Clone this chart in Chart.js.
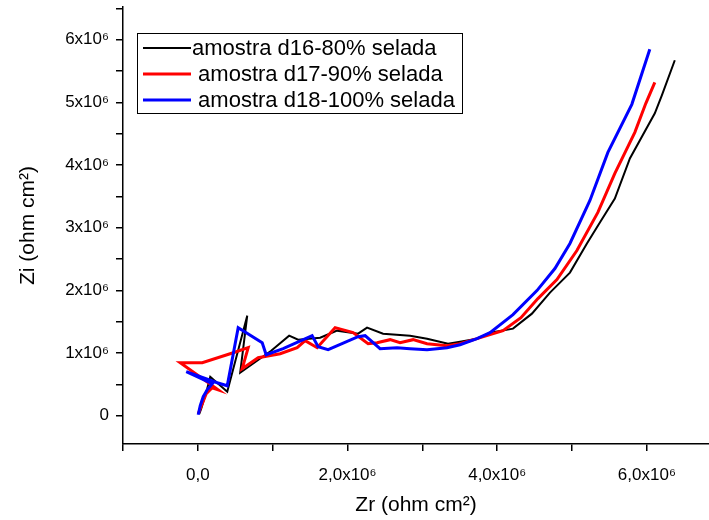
<!DOCTYPE html>
<html>
<head>
<meta charset="utf-8">
<script src="https://cdn.jsdelivr.net/npm/chart.js@4.4.0/dist/chart.umd.min.js"></script>
<style>
  html, body { margin: 0; padding: 0; background: #fff; }
  #wrap { width: 709px; height: 520px; }
</style>
</head>
<body>
<div id="wrap"><canvas id="chart" width="709" height="520"></canvas></div>
<script>
// series labels (Origin export had a leading space on the last two)
const seriesLabels = ['amostra d16-80% selada', ' amostra d17-90% selada', ' amostra d18-100% selada'];
const seriesColors = ['#000000', '#ff0000', '#0000ff'];

// Zr / Zi (ohm cm2)
const d16Zr = [0.019e6, 0.045e6, 0.085e6, 0.125e6, 0.166e6, 0.393e6, 0.660e6, 0.566e6, 0.980e6, 1.220e6, 1.340e6, 1.634e6, 1.861e6, 2.141e6, 2.261e6, 2.475e6, 2.836e6, 3.063e6, 3.343e6, 3.503e6, 3.730e6, 3.904e6, 4.211e6, 4.464e6, 4.705e6, 4.972e6, 5.199e6, 5.372e6, 5.572e6, 5.773e6, 6.106e6, 6.200e6, 6.373e6];
const d16Zi = [0.032e6, 0.112e6, 0.272e6, 0.431e6, 0.623e6, 0.383e6, 1.597e6, 0.687e6, 1.038e6, 1.278e6, 1.214e6, 1.246e6, 1.358e6, 1.310e6, 1.406e6, 1.310e6, 1.278e6, 1.230e6, 1.150e6, 1.182e6, 1.230e6, 1.326e6, 1.390e6, 1.629e6, 1.965e6, 2.284e6, 2.748e6, 3.083e6, 3.466e6, 4.105e6, 4.824e6, 5.112e6, 5.671e6];

const d17Zr = [0.005e6, 0.059e6, 0.112e6, 0.192e6, 0.272e6, -0.235e6, 0.059e6, 0.473e6, 0.673e6, 0.593e6, 0.806e6, 1.100e6, 1.327e6, 1.434e6, 1.594e6, 1.834e6, 2.075e6, 2.275e6, 2.395e6, 2.569e6, 2.702e6, 2.876e6, 3.063e6, 3.330e6, 3.503e6, 3.730e6, 3.904e6, 4.077e6, 4.317e6, 4.544e6, 4.798e6, 5.065e6, 5.345e6, 5.572e6, 5.839e6, 5.986e6, 6.106e6];
const d17Zi = [0.032e6, 0.192e6, 0.351e6, 0.447e6, 0.415e6, 0.847e6, 0.847e6, 1.006e6, 1.086e6, 0.751e6, 0.927e6, 0.990e6, 1.086e6, 1.198e6, 1.086e6, 1.406e6, 1.326e6, 1.150e6, 1.166e6, 1.214e6, 1.166e6, 1.214e6, 1.150e6, 1.118e6, 1.150e6, 1.230e6, 1.294e6, 1.358e6, 1.565e6, 1.869e6, 2.173e6, 2.636e6, 3.243e6, 3.866e6, 4.521e6, 4.984e6, 5.319e6];

const d18Zr = [0.005e6, 0.032e6, 0.072e6, 0.125e6, 0.192e6, -0.155e6, 0.259e6, 0.393e6, 0.539e6, 0.860e6, 0.913e6, 1.140e6, 1.527e6, 1.607e6, 1.741e6, 2.141e6, 2.235e6, 2.435e6, 2.662e6, 2.836e6, 3.063e6, 3.330e6, 3.503e6, 3.730e6, 3.904e6, 4.211e6, 4.531e6, 4.771e6, 4.972e6, 5.239e6, 5.479e6, 5.799e6, 6.039e6];
const d18Zi = [0.016e6, 0.160e6, 0.304e6, 0.415e6, 0.511e6, 0.703e6, 0.527e6, 0.479e6, 1.406e6, 1.166e6, 0.974e6, 1.070e6, 1.278e6, 1.102e6, 1.054e6, 1.262e6, 1.278e6, 1.070e6, 1.086e6, 1.070e6, 1.054e6, 1.086e6, 1.134e6, 1.230e6, 1.326e6, 1.613e6, 1.997e6, 2.348e6, 2.748e6, 3.435e6, 4.201e6, 4.968e6, 5.847e6];

// axis ticks
const xMajorTicks = [0, 2e6, 4e6, 6e6];
const xTickLabels = ['0,0', '2,0x10⁶', '4,0x10⁶', '6,0x10⁶'];
const xMinorTicks = [-1e6, 1e6, 3e6, 5e6];
const yMajorTicks = [0, 1e6, 2e6, 3e6, 4e6, 5e6, 6e6];
const yTickLabels = ['0', '1x10⁶', '2x10⁶', '3x10⁶', '4x10⁶', '5x10⁶', '6x10⁶'];
const yMinorTicks = [0.5e6, 1.5e6, 2.5e6, 3.5e6, 4.5e6, 5.5e6, 6.5e6];

const FONT = "'Liberation Sans', Arial, sans-serif";

function toPoints(xs, ys) {
  return xs.map((x, i) => ({ x: x, y: ys[i] }));
}

const seriesData = [toPoints(d16Zr, d16Zi), toPoints(d17Zr, d17Zi), toPoints(d18Zr, d18Zi)];
const seriesWidths = [2, 3, 3];

const datasets = seriesData.map((pts, i) => ({
  label: seriesLabels[i],
  data: pts,
  borderColor: seriesColors[i],
  backgroundColor: seriesColors[i],
  borderWidth: seriesWidths[i],
  pointRadius: 0,
  tension: 0,
  fill: false,
  order: 3 - i // blue drawn on top
}));

function tickLabel(majors, labels) {
  return function (value) {
    const idx = majors.findIndex(v => Math.abs(v - value) < 1);
    return idx >= 0 ? labels[idx] : '';
  };
}

// legend box like the Origin one
const boxLegend = {
  id: 'boxLegend',
  afterDraw(chart) {
    const ctx = chart.ctx;
    ctx.save();
    ctx.strokeStyle = '#000';
    ctx.lineWidth = 1;
    ctx.strokeRect(137.5, 33.5, 325, 80);
    const rows = [48, 74, 100];
    ctx.font = '22px ' + FONT;
    ctx.textBaseline = 'middle';
    chart.data.datasets.forEach((ds, i) => {
      ctx.strokeStyle = ds.borderColor;
      ctx.lineWidth = ds.borderWidth;
      ctx.beginPath();
      ctx.moveTo(143, rows[i]);
      ctx.lineTo(191, rows[i]);
      ctx.stroke();
      ctx.fillStyle = '#000';
      ctx.fillText(ds.label, 192, rows[i] + 1);
    });
    ctx.restore();
  }
};

const ctx = document.getElementById('chart').getContext('2d');
new Chart(ctx, {
  type: 'line',
  data: { datasets: datasets },
  options: {
    responsive: false,
    animation: false,
    layout: { padding: { left: 0, right: 0, top: 7, bottom: 0 } },
    plugins: { legend: { display: false }, tooltip: { enabled: false } },
    scales: {
      x: {
        type: 'linear',
        min: -1e6,
        max: 6.83e6,
        afterFit: (s) => { s.height = 76; s.paddingLeft = 0; s.paddingRight = 0; },
        afterBuildTicks: (s) => {
          s.ticks = xMajorTicks.concat(xMinorTicks).sort((a, b) => a - b).map(v => ({ value: v }));
        },
        border: { display: true, color: '#000', width: 1.5 },
        grid: { drawOnChartArea: false, drawTicks: true, tickLength: 7, color: '#000', lineWidth: 1.5 },
        ticks: {
          autoSkip: false,
          maxRotation: 0,
          padding: 14,
          color: '#000',
          font: { family: FONT, size: 17 },
          callback: tickLabel(xMajorTicks, xTickLabels)
        },
        title: {
          display: true,
          text: 'Zr (ohm cm²)',
          color: '#000',
          font: { family: FONT, size: 21 },
          padding: { top: 0, bottom: 2 }
        }
      },
      y: {
        type: 'linear',
        min: -0.45e6,
        max: 6.52e6,
        afterFit: (s) => { s.width = 123; s.paddingTop = 0; s.paddingBottom = 0; },
        afterBuildTicks: (s) => {
          s.ticks = yMajorTicks.concat(yMinorTicks).sort((a, b) => a - b).map(v => ({ value: v }));
        },
        border: { display: true, color: '#000', width: 1.5 },
        grid: { drawOnChartArea: false, drawTicks: true, tickLength: 7, color: '#000', lineWidth: 1.5 },
        ticks: {
          autoSkip: false,
          padding: 7,
          color: '#000',
          font: { family: FONT, size: 17 },
          callback: tickLabel(yMajorTicks, yTickLabels)
        },
        title: {
          display: true,
          text: 'Zi (ohm cm²)',
          color: '#000',
          font: { family: FONT, size: 21 },
          padding: { top: 16, bottom: 0 }
        }
      }
    }
  },
  plugins: [boxLegend]
});
</script>
</body>
</html>
